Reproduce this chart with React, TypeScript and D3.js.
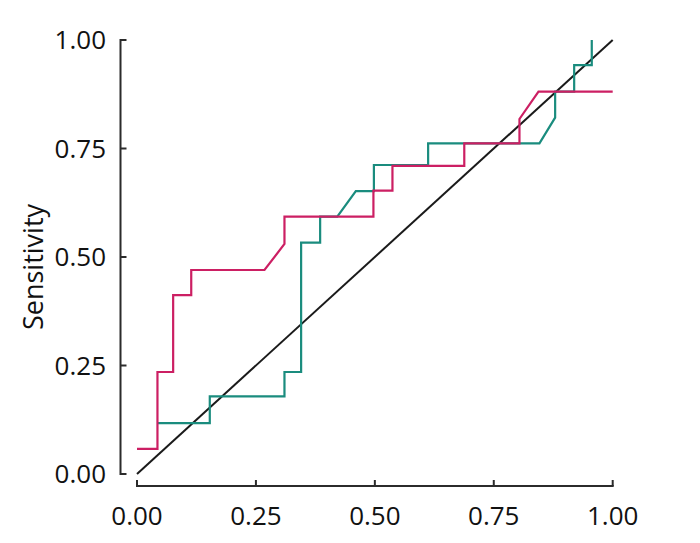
import React from "react";
import * as d3 from "d3";

const tickValues = [0, 0.25, 0.5, 0.75, 1];
const tickLabels = ["0.00", "0.25", "0.50", "0.75", "1.00"];

const pinkX = [0.0, 0.043, 0.043, 0.076, 0.076, 0.114, 0.114, 0.268, 0.31, 0.31, 0.497, 0.497, 0.537, 0.537, 0.688, 0.688, 0.804, 0.804, 0.844, 1.0];
const pinkY = [0.058, 0.058, 0.235, 0.235, 0.412, 0.412, 0.47, 0.47, 0.53, 0.593, 0.593, 0.653, 0.653, 0.71, 0.71, 0.762, 0.762, 0.818, 0.881, 0.881];

const tealX = [0.043, 0.153, 0.153, 0.31, 0.31, 0.345, 0.345, 0.385, 0.385, 0.421, 0.46, 0.498, 0.498, 0.612, 0.612, 0.846, 0.879, 0.879, 0.919, 0.919, 0.956, 0.956];
const tealY = [0.117, 0.117, 0.179, 0.179, 0.235, 0.235, 0.533, 0.533, 0.593, 0.593, 0.652, 0.652, 0.712, 0.712, 0.762, 0.762, 0.821, 0.881, 0.881, 0.942, 0.942, 1.0];

const diagX = [0, 1];
const diagY = [0, 1];

const yLabel = "Sensitivity";

export default function App() {
  const x = d3.scaleLinear().domain([0, 1]).range([137, 612.7]);
  const y = d3.scaleLinear().domain([0, 1]).range([474, 40]);
  const line = d3
    .line<[number, number]>()
    .x((d) => x(d[0]))
    .y((d) => y(d[1]));
  const pink = pinkX.map((v, i) => [v, pinkY[i]] as [number, number]);
  const teal = tealX.map((v, i) => [v, tealY[i]] as [number, number]);
  const diag = diagX.map((v, i) => [v, diagY[i]] as [number, number]);
  const axisX = 120.5;
  const axisY = 486;
  const font = "'Open Sans', sans-serif";
  const axisColor = "#2b2b2b";
  return (
    <svg
      width={700}
      height={543}
      style={{ position: "absolute", left: 0, top: 0, background: "#fff" }}
    >
      <path d={line(diag) || ""} fill="none" stroke="#1a1a1a" strokeWidth={2} />
      <path d={line(teal) || ""} fill="none" stroke="#1a8c7e" strokeWidth={2.2} />
      <path d={line(pink) || ""} fill="none" stroke="#cc1f63" strokeWidth={2.2} />
      {/* y axis */}
      <line x1={axisX} x2={axisX} y1={y(1)} y2={y(0)} stroke={axisColor} strokeWidth={2} strokeLinecap="square" />
      {tickValues.map((t, i) => (
        <g key={"y" + i}>
          <line x1={axisX} x2={axisX + 6} y1={y(t)} y2={y(t)} stroke={axisColor} strokeWidth={2} />
          <text
            x={106}
            y={y(t)}
            dy="0.36em"
            textAnchor="end"
            fontFamily={font}
            fontSize={26}
            fill="#111"
          >
            {tickLabels[i]}
          </text>
        </g>
      ))}
      {/* x axis */}
      <line x1={x(0)} x2={x(1)} y1={axisY} y2={axisY} stroke={axisColor} strokeWidth={2} strokeLinecap="square" />
      {tickValues.map((t, i) => (
        <g key={"x" + i}>
          <line x1={x(t)} x2={x(t)} y1={axisY} y2={axisY - 6} stroke={axisColor} strokeWidth={2} />
          <text
            x={x(t)}
            y={525}
            textAnchor="middle"
            fontFamily={font}
            fontSize={26}
            fill="#111"
          >
            {tickLabels[i]}
          </text>
        </g>
      ))}
      <text
        transform={`translate(43, 267) rotate(-90)`}
        textAnchor="middle"
        fontFamily={font}
        fontSize={27}
        fill="#111"
      >
        {yLabel}
      </text>
    </svg>
  );
}
